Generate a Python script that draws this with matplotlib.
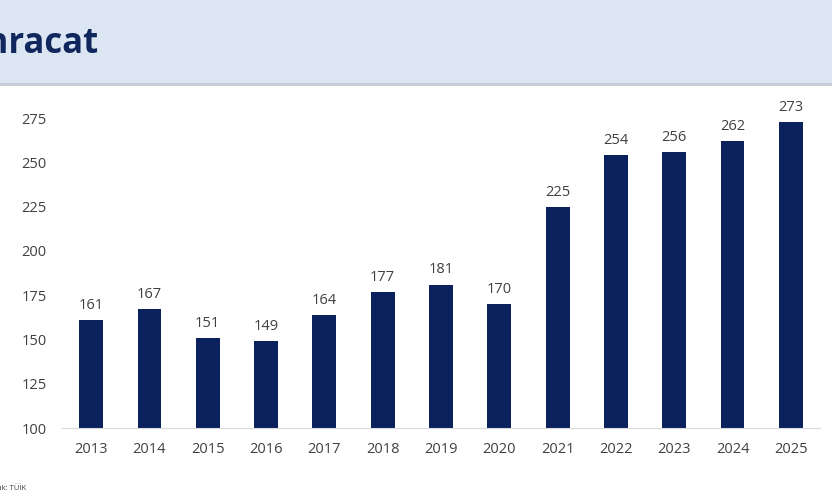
import matplotlib
matplotlib.use("Agg")
import matplotlib.pyplot as plt
from matplotlib.patches import Rectangle
import numpy as np

years = ["2013", "2014", "2015", "2016", "2017", "2018", "2019",
         "2020", "2021", "2022", "2023", "2024", "2025"]
values = [161, 167, 151, 149, 164, 177, 181, 170, 225, 254, 256, 262, 273]
yticks = [100, 125, 150, 175, 200, 225, 250, 275]
title = "İhracat"
source = "Kaynak: TÜİK"

plt.rcParams['font.family'] = ['Open Sans', 'DejaVu Sans']

W, H = 832, 498
fig = plt.figure(figsize=(W / 100, H / 100), dpi=100)

# header band
fig.patches.append(Rectangle((0, 1 - 83 / H), 1, 83 / H, transform=fig.transFigure,
                             facecolor="#dce6f2", edgecolor="none", zorder=0))
fig.add_artist(plt.Line2D([0, 1], [1 - 84 / H, 1 - 84 / H], transform=fig.transFigure,
                          color="#c3cbd6", lw=2))
fig.text(98 / W, 1 - 44 / H, title, ha="right", va="center", fontsize=25,
         fontweight="bold", color="#10275e")

ax = fig.add_axes([62 / W, 1 - 428 / H, (820 - 62) / W, (428 - 91.5) / H])
x = np.arange(len(years))
ax.bar(x, values, width=0.41, color="#0a215e", zorder=2)
for xi, v in zip(x, values):
    ax.text(xi, v + 4, str(v), ha="center", va="bottom", fontsize=10.5, color="#404040")

ax.set_xlim(-0.5, len(years) - 0.5)
ax.set_ylim(100, 290)
ax.set_xticks(x)
ax.set_xticklabels(years)
ax.set_yticks(yticks)
ax.tick_params(axis="both", length=0, labelsize=10.5, colors="#404040")
ax.tick_params(axis="x", pad=10)
ax.tick_params(axis="y", pad=11)
for s in ["top", "right", "left"]:
    ax.spines[s].set_visible(False)
ax.spines["bottom"].set_color("#d9d9d9")

fig.text(26 / W, 1 - 488 / H, source, ha="right", va="center", fontsize=5.5, color="#404040")

fig.savefig("out.png", dpi=100)
